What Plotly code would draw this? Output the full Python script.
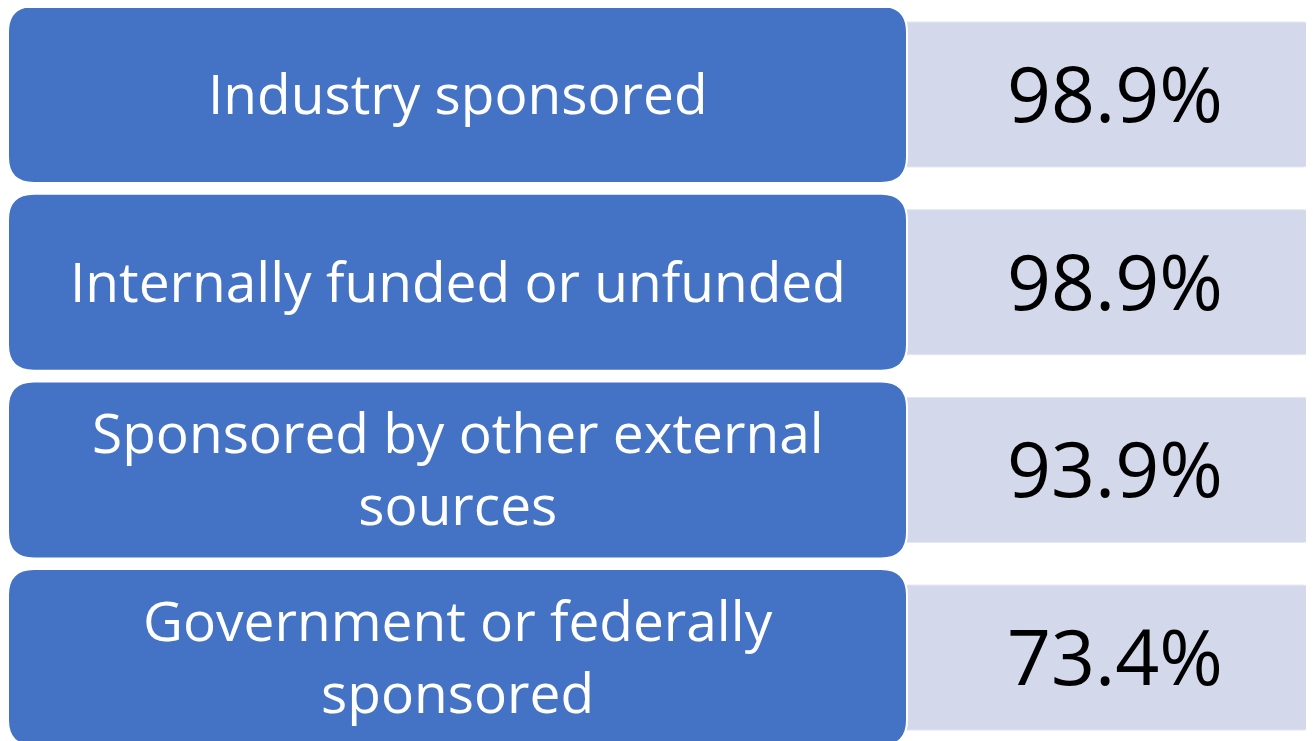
import plotly.graph_objects as go

categories = [
    "Industry sponsored",
    "Internally funded or unfunded",
    "Sponsored by other external<br>sources",
    "Government or federally<br>sponsored",
]
values = [98.9, 98.9, 93.9, 73.4]
value_labels = [f"{v:.1f}%" for v in values]

W, H = 1314, 741
PAGE_OFF = 8  # page body margin in the browser
BLUE = "#4472C4"
LIGHT = "#D3D8EA"

row_top0 = 6
pitch = 187.7
blue_h = 177
blue_x0, blue_x1 = 8, 907
light_x0, light_x1 = 890, 1312
light_off, light_h = 16, 145


def rrect(x0, y0, x1, y1, r):
    return (f"M {x0+r},{y0} L {x1-r},{y0} Q {x1},{y0} {x1},{y0+r} "
            f"L {x1},{y1-r} Q {x1},{y1} {x1-r},{y1} "
            f"L {x0+r},{y1} Q {x0},{y1} {x0},{y1-r} "
            f"L {x0},{y0+r} Q {x0},{y0} {x0+r},{y0} Z")


shapes = []
annotations = []
for i, (cat, lab) in enumerate(zip(categories, value_labels)):
    top = row_top0 + i * pitch
    ly0 = top + light_off
    ly1 = ly0 + light_h
    shapes.append(dict(type="path", path=rrect(light_x0, ly0, light_x1, ly1, 9),
                       fillcolor=LIGHT, line=dict(color="#E4E7F2", width=1),
                       xref="x", yref="y", layer="below"))
    shapes.append(dict(type="path", path=rrect(blue_x0, top, blue_x1, top + blue_h, 26),
                       fillcolor=BLUE, line=dict(color="white", width=2),
                       xref="x", yref="y", layer="below"))
    cy = top + blue_h / 2
    annotations.append(dict(x=(blue_x0 + blue_x1) / 2, y=cy - 2, text=cat, showarrow=False,
                            xref="x", yref="y", xanchor="center", yanchor="middle",
                            align="center",
                            font=dict(family="Open Sans", size=55, color="white")))
    annotations.append(dict(x=1115, y=cy - 2, text=lab, showarrow=False,
                            xref="x", yref="y", xanchor="center", yanchor="middle",
                            font=dict(family="Open Sans", size=77, color="black")))

fig = go.Figure()
fig.add_trace(go.Scatter(x=[0, W], y=[0, H], mode="markers",
                         marker=dict(opacity=0), hoverinfo="skip", showlegend=False))
fig.update_layout(
    width=W, height=H,
    margin=dict(l=0, r=0, t=0, b=0),
    paper_bgcolor="white", plot_bgcolor="white",
    xaxis=dict(range=[PAGE_OFF, W + PAGE_OFF], visible=False, fixedrange=True),
    yaxis=dict(range=[H + PAGE_OFF, PAGE_OFF], visible=False, fixedrange=True),
    shapes=shapes, annotations=annotations, showlegend=False,
)
fig.write_html("out.html")
